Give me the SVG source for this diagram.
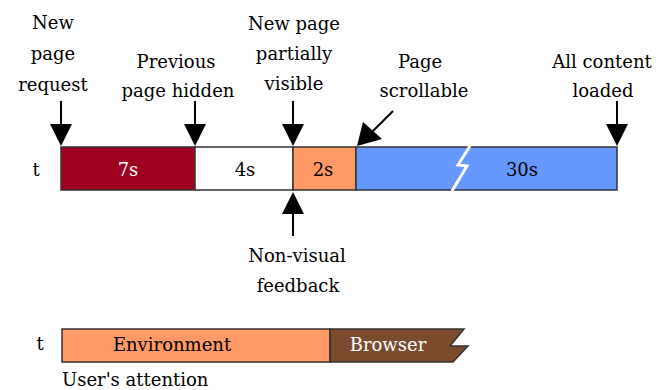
<svg xmlns="http://www.w3.org/2000/svg" width="667" height="390" viewBox="0 0 667 390">
<style>
.t{font-family:"DejaVu Serif","Liberation Serif",serif;font-size:18px;fill:#000;text-anchor:middle}
.w{fill:#fff}
.l{text-anchor:start}
.seg{stroke:#333;stroke-width:1.5}
.ln{stroke:#000;stroke-width:2;fill:none}
.hd{fill:#000}
</style>
<rect width="667" height="390" fill="#fff"/>
<g id="timeline">
<text class="t" x="36" y="176">t</text>
<rect class="seg" x="61" y="147" width="134" height="43" fill="#A00020"/>
<rect class="seg" x="195" y="147" width="98" height="43" fill="#fff"/>
<rect class="seg" x="293" y="147" width="63" height="43" fill="#FF9966"/>
<rect class="seg" x="356" y="147" width="261" height="43" fill="#6699FF"/>
<polyline points="470,146 458,165 467,166 452,191" fill="none" stroke="#fff" stroke-width="3"/>
<text class="t w" x="128" y="176">7s</text>
<text class="t" x="245" y="176">4s</text>
<text class="t" x="323" y="176">2s</text>
<text class="t" x="522" y="176">30s</text>
</g>
<g id="connectors">
<line class="ln" x1="61" y1="101" x2="61" y2="126"/>
<polygon class="hd" points="50,124 72,124 61,146"/>
<line class="ln" x1="195" y1="101" x2="195" y2="126"/>
<polygon class="hd" points="184,124 206,124 195,146"/>
<line class="ln" x1="293" y1="101" x2="293" y2="126"/>
<polygon class="hd" points="282,124 304,124 293,146"/>
<line class="ln" x1="617" y1="101" x2="617" y2="126"/>
<polygon class="hd" points="606,124 628,124 617,146"/>
<line class="ln" x1="393" y1="111" x2="370" y2="134"/>
<polygon class="hd" points="357,146 363,122 382,139"/>
<line class="ln" x1="293" y1="236" x2="293" y2="212"/>
<polygon class="hd" points="282,214 304,214 293,192"/>
</g>
<g id="labels">
<text class="t" x="53" y="29">New</text>
<text class="t" x="53" y="60">page</text>
<text class="t" x="53" y="91">request</text>
<text class="t" x="176" y="68">Previous</text>
<text class="t" x="178" y="97">page hidden</text>
<text class="t" x="294" y="30">New page</text>
<text class="t" x="294" y="60">partially</text>
<text class="t" x="294" y="90">visible</text>
<text class="t" x="420" y="68">Page</text>
<text class="t" x="424" y="97">scrollable</text>
<text class="t" x="602" y="68">All content</text>
<text class="t" x="603" y="97">loaded</text>
<text class="t" x="297" y="262">Non-visual</text>
<text class="t" x="298" y="292">feedback</text>
</g>
<g id="attention">
<text class="t" x="40" y="350">t</text>
<rect class="seg" x="62" y="329" width="268" height="33" fill="#FF9966"/>
<polygon class="seg" points="330,329 464,329 450,346 468,346 453,362 330,362" fill="#7B4B2E"/>
<text class="t" x="172" y="351">Environment</text>
<text class="t w" x="388" y="351">Browser</text>
<text class="t l" x="62" y="386">User's attention</text>
</g>
</svg>
